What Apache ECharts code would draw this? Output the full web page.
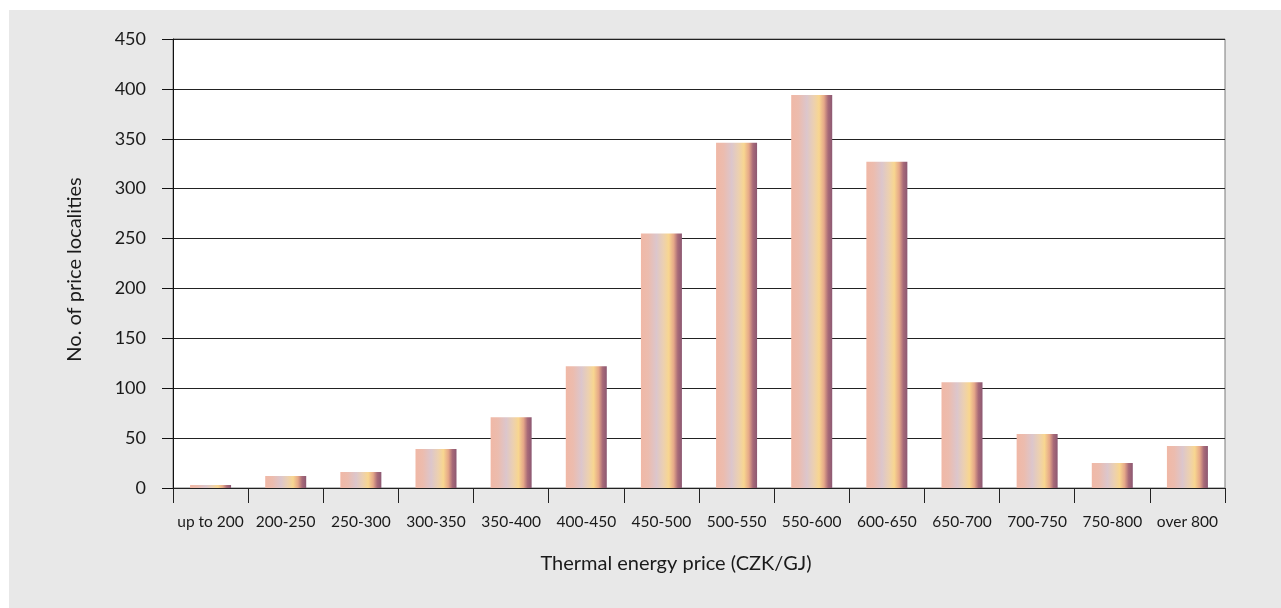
<!DOCTYPE html>
<html>
<head>
<meta charset="utf-8">
<script src="https://cdn.jsdelivr.net/npm/echarts@6/dist/echarts.min.js"></script>
<style>
  html, body { margin: 0; padding: 0; background: #fff; }
  #chart { width: 1281px; height: 608px; }
</style>
</head>
<body>
<div id="chart"></div>
<script>
// Price bands (CZK/GJ) and number of price localities in each band
const priceBands = ['up to 200', '200-250', '250-300', '300-350', '350-400', '400-450', '450-500',
  '500-550', '550-600', '600-650', '650-700', '700-750', '750-800', 'over 800'];
const localities = [3, 12, 16, 39, 71, 122, 255, 346, 394, 327, 106, 54, 25, 42];
const yTicks = { min: 0, max: 450, interval: 50 };

const FONT = 'Lato, "Open Sans", sans-serif';

const barFill = new echarts.graphic.LinearGradient(0, 0, 1, 0, [
  { offset: 0.00, color: '#f0b8a6' },
  { offset: 0.18, color: '#ecbcae' },
  { offset: 0.38, color: '#dcc6cc' },
  { offset: 0.55, color: '#ecd0b0' },
  { offset: 0.68, color: '#f8d690' },
  { offset: 0.80, color: '#e6a888' },
  { offset: 0.90, color: '#a86a78' },
  { offset: 1.00, color: '#8c5872' }
]);

const chart = echarts.init(document.getElementById('chart'), null, { renderer: 'canvas' });
chart.setOption({
  backgroundColor: '#ffffff',
  animation: false,
  graphic: [{
    type: 'rect',
    z: -10,
    silent: true,
    shape: { x: 9, y: 10, width: 1272, height: 598 },
    style: { fill: '#e8e8e8' }
  }],
  grid: {
    left: 173, right: 56, top: 39, bottom: 120,
    show: true,
    backgroundColor: '#ffffff',
    borderColor: '#7a7a7a',
    borderWidth: 1
  },
  xAxis: {
    type: 'category',
    data: priceBands,
    boundaryGap: true,
    name: 'Thermal energy price (CZK/GJ)',
    nameLocation: 'middle',
    nameGap: 66,
    nameTextStyle: { fontFamily: FONT, fontSize: 20, color: '#1a1a1a', padding: [0, 46, 0, 0] },
    axisLine: { show: true, lineStyle: { color: '#222', width: 1 } },
    axisTick: { show: true, alignWithLabel: false, length: 15, lineStyle: { color: '#222', width: 1 } },
    axisLabel: { fontFamily: FONT, fontSize: 15.5, color: '#1a1a1a', margin: 26, interval: 0 }
  },
  yAxis: {
    type: 'value',
    min: yTicks.min,
    max: yTicks.max,
    interval: yTicks.interval,
    name: 'No. of price localities',
    nameLocation: 'middle',
    nameGap: 88,
    nameTextStyle: { fontFamily: FONT, fontSize: 20, color: '#1a1a1a', padding: [0, 12, 0, 0] },
    axisLine: { show: true, lineStyle: { color: '#111', width: 1 } },
    axisTick: { show: true, inside: false, length: 11, lineStyle: { color: '#111', width: 1 } },
    axisLabel: { fontFamily: FONT, fontSize: 18, color: '#1a1a1a', margin: 27 },
    splitLine: { show: true, lineStyle: { color: '#222', width: 1 } }
  },
  series: [{
    type: 'bar',
    data: localities,
    barWidth: 41,
    itemStyle: { color: barFill }
  }]
});
</script>
</body>
</html>
